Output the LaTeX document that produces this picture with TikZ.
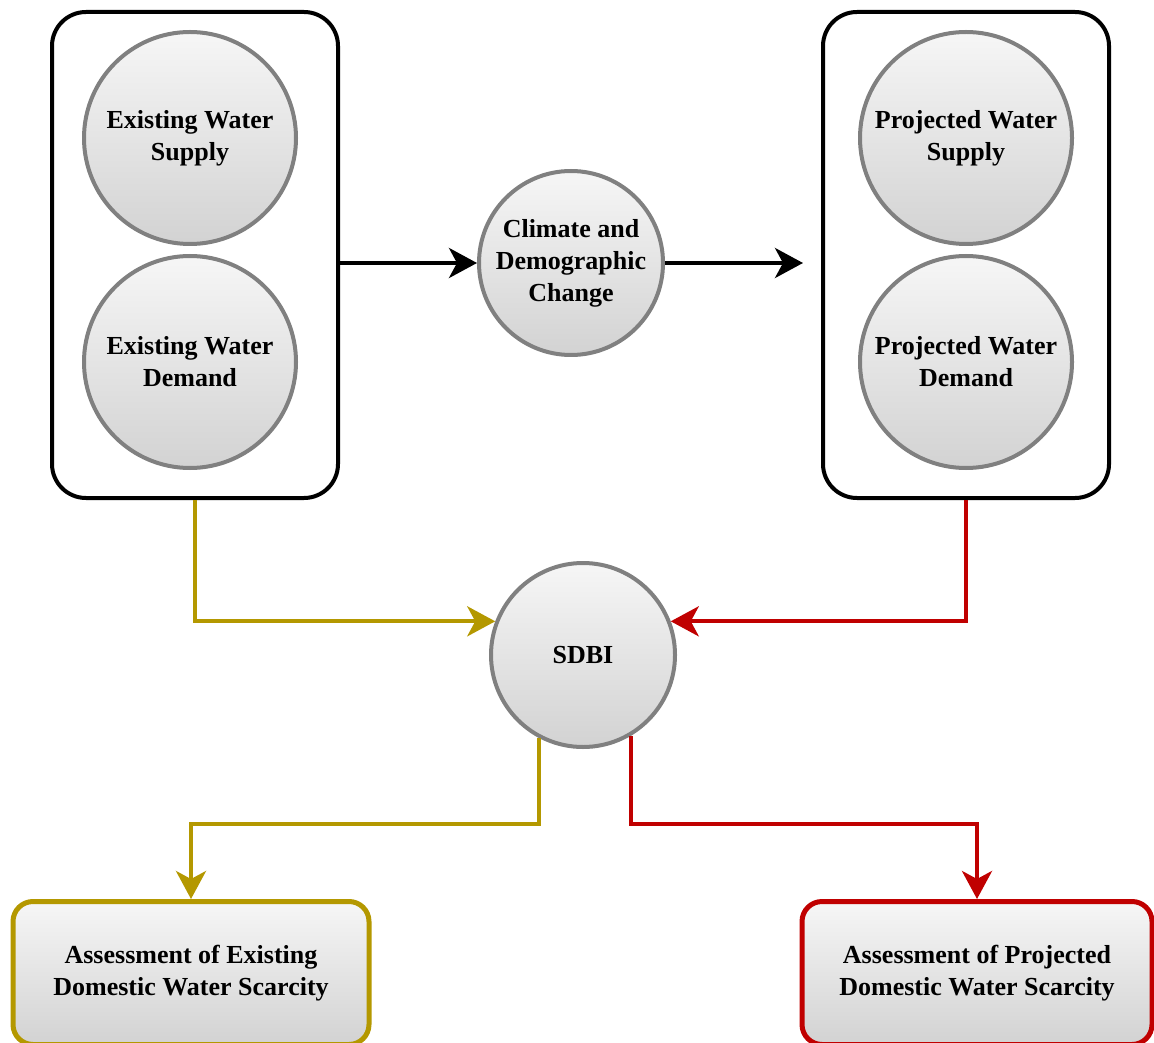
\documentclass[tikz,border=0pt]{standalone}
\usepackage{fontspec}
\setmainfont{Liberation Serif}
\usetikzlibrary{calc,positioning,arrows.meta}
\definecolor{gold}{RGB}{180,152,0}
\definecolor{darkred}{RGB}{192,0,0}
\tikzstyle{line} = [draw, line width=2pt, -{Stealth[length=14pt,width=15pt,inset=4pt]}]

\begin{document}
\begin{tikzpicture}[
	x=0.5pt,y=-0.5pt,
	every node/.style={font=\bfseries\fontsize{13}{16}\selectfont},
	group/.style={
		rectangle,
		rounded corners=17pt,
		minimum width=143pt,
		minimum height=243pt,
		line width=2pt,
		draw=black,
	},
	quantity/.style={
		circle,
		minimum size=106pt,
		inner sep=0pt,
		line width=2pt,
		draw=gray,
		top color=gray!7,
		bottom color=gray!35,
		align=center,
	},
	process/.style={
		quantity,
		minimum size=92pt,
	},
	result/.style={
		rectangle,
		rounded corners=10pt,
		minimum width=178pt,
		minimum height=71.5pt,
		line width=2.5pt,
		top color=gray!7,
		bottom color=gray!35,
		align=center,
	}
]
	\useasboundingbox (0,0) rectangle (1154,1042);

	\node (exbox) [group] at (195,255) {};
	\node (exsup) [quantity] at (190,138)
		{Existing Water\\Supply};
	\node (exdem) [quantity,below=4pt of exsup]
		{Existing Water\\Demand};

	\node (prbox) [group] at (966,255) {};
	\node (prsup) [quantity] at (966,138)
		{Projected Water\\Supply};
	\node (prdem) [quantity,below=4pt of prsup]
		{Projected Water\\Demand};

	\node (clim) [process] at (571,263)
		{Climate and\\Demographic\\Change};
	\node (sdbi) [process] at (583,655)
		{SDBI};

	\node (exass) [result,draw=gold] at (191,973)
		{Assessment of Existing\\Domestic Water Scarcity};
	\node (prass) [result,draw=darkred,minimum width=175pt] at (977,973)
		{Assessment of Projected\\Domestic Water Scarcity};

	\draw [line] (exbox.east |- clim.west) -- (clim.west);
	\draw [line,shorten >=9pt] (clim.east) -- (prbox.west |- clim.east);
	\draw [line,gold] (exbox.south) |- (sdbi.159);
	\draw [line,darkred] (prbox.south) |- (sdbi.21);
	\draw [line,gold] (sdbi.242) -- ++(0,86) -| (exass.north);
	\draw [line,darkred] (sdbi.301) -- ++(0,88) -| (prass.north);

\end{tikzpicture}
\end{document}
